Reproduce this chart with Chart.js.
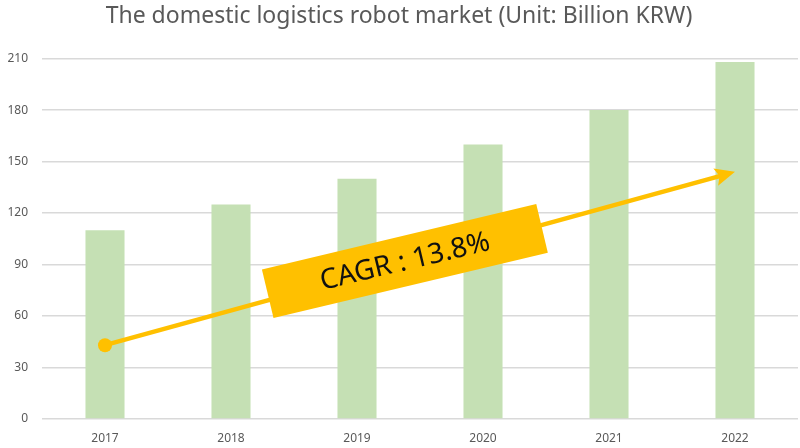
<html>
<head>
<style>
  html, body { margin: 0; padding: 0; background: #fff; }
  #wrap { width: 800px; height: 448px; }
</style>
<script src="https://cdn.jsdelivr.net/npm/chart.js"></script>
</head>
<body>
<div id="wrap"><canvas id="chartCanvas" width="800" height="448"></canvas></div>
<script>
// data
var years = ["2017", "2018", "2019", "2020", "2021", "2022"];
var market = [110, 125, 140, 160, 180, 208];
var yTicks = [0, 30, 60, 90, 120, 150, 180, 210];
var cagrLabel = "CAGR : 13.8%";
var cagrFrom = 43;   // value at 2017 where the arrow starts
var cagrTo = 144;    // value at 2022 where the arrow ends

var fontName = "'Noto Sans', 'DejaVu Sans', sans-serif";

// arrow + rotated box drawn on top of the bars
var cagrArrow = {
  id: 'cagrArrow',
  afterDatasetsDraw: function (chart) {
    var ctx = chart.ctx;
    var xs = chart.scales.x, ys = chart.scales.y;
    var x0 = xs.getPixelForValue(0), y0 = ys.getPixelForValue(cagrFrom);
    var x1 = xs.getPixelForValue(years.length - 1), y1 = ys.getPixelForValue(cagrTo);
    var ang = Math.atan2(y1 - y0, x1 - x0);
    var col = '#FFC000';

    ctx.save();
    ctx.strokeStyle = col;
    ctx.fillStyle = col;
    ctx.lineWidth = 4.5;
    var head = 20;
    ctx.beginPath();
    ctx.moveTo(x0, y0);
    ctx.lineTo(x1 - Math.cos(ang) * head * 0.7, y1 - Math.sin(ang) * head * 0.7);
    ctx.stroke();
    // start dot
    ctx.beginPath();
    ctx.arc(x0, y0, 7, 0, Math.PI * 2);
    ctx.fill();
    // arrow head
    ctx.translate(x1, y1);
    ctx.rotate(ang);
    ctx.beginPath();
    ctx.moveTo(0, 0);
    ctx.lineTo(-head, -9);
    ctx.lineTo(-head + 4, 0);
    ctx.lineTo(-head, 9);
    ctx.closePath();
    ctx.fill();
    ctx.restore();

    // label box
    var cx = xs.getPixelForValue(0) + (xs.getPixelForValue(1) - xs.getPixelForValue(0)) * 2.38;
    var cy = ys.getPixelForValue(92);
    ctx.save();
    ctx.translate(cx, cy);
    ctx.rotate(-13.4 * Math.PI / 180);
    ctx.fillStyle = col;
    ctx.fillRect(-141, -25, 282, 50);
    ctx.fillStyle = '#111';
    ctx.font = "28px " + fontName;
    ctx.textAlign = 'center';
    ctx.textBaseline = 'middle';
    ctx.fillText(cagrLabel, 0, 1);
    ctx.restore();
  }
};

var ctx = document.getElementById("chartCanvas");
var chart = new Chart(ctx, {
  type: 'bar',
  data: {
    labels: years,
    datasets: [{
      label: 'Market',
      data: market,
      backgroundColor: '#C5E0B4',
      barPercentage: 0.31,
      categoryPercentage: 1.0
    }]
  },
  options: {
    responsive: false,
    animation: false,
    layout: { padding: { top: 3, right: 2, left: 0, bottom: 0 } },
    plugins: {
      legend: { display: false },
      tooltip: { enabled: false },
      title: {
        display: true,
        text: 'The domestic logistics robot market (Unit: Billion KRW)',
        color: '#595959',
        font: { family: fontName, size: 23, weight: 'normal' },
        padding: { top: 0, bottom: 28 }
      }
    },
    scales: {
      x: {
        grid: { display: false },
        border: { display: false },
        afterFit: function (axis) { axis.height = 29; },
        ticks: { color: '#595959', font: { family: fontName, size: 12 }, padding: 4 }
      },
      y: {
        min: 0,
        max: 210,
        afterBuildTicks: function (axis) {
          axis.ticks = yTicks.map(function (v) { return { value: v }; });
        },
        afterFit: function (axis) { axis.width = 42; },
        grid: { color: '#D9D9D9', lineWidth: 1.5, drawTicks: false },
        border: { display: false },
        ticks: { color: '#595959', font: { family: fontName, size: 12 }, padding: 14 }
      }
    }
  },
  plugins: [cagrArrow]
});
</script>
</body>
</html>
